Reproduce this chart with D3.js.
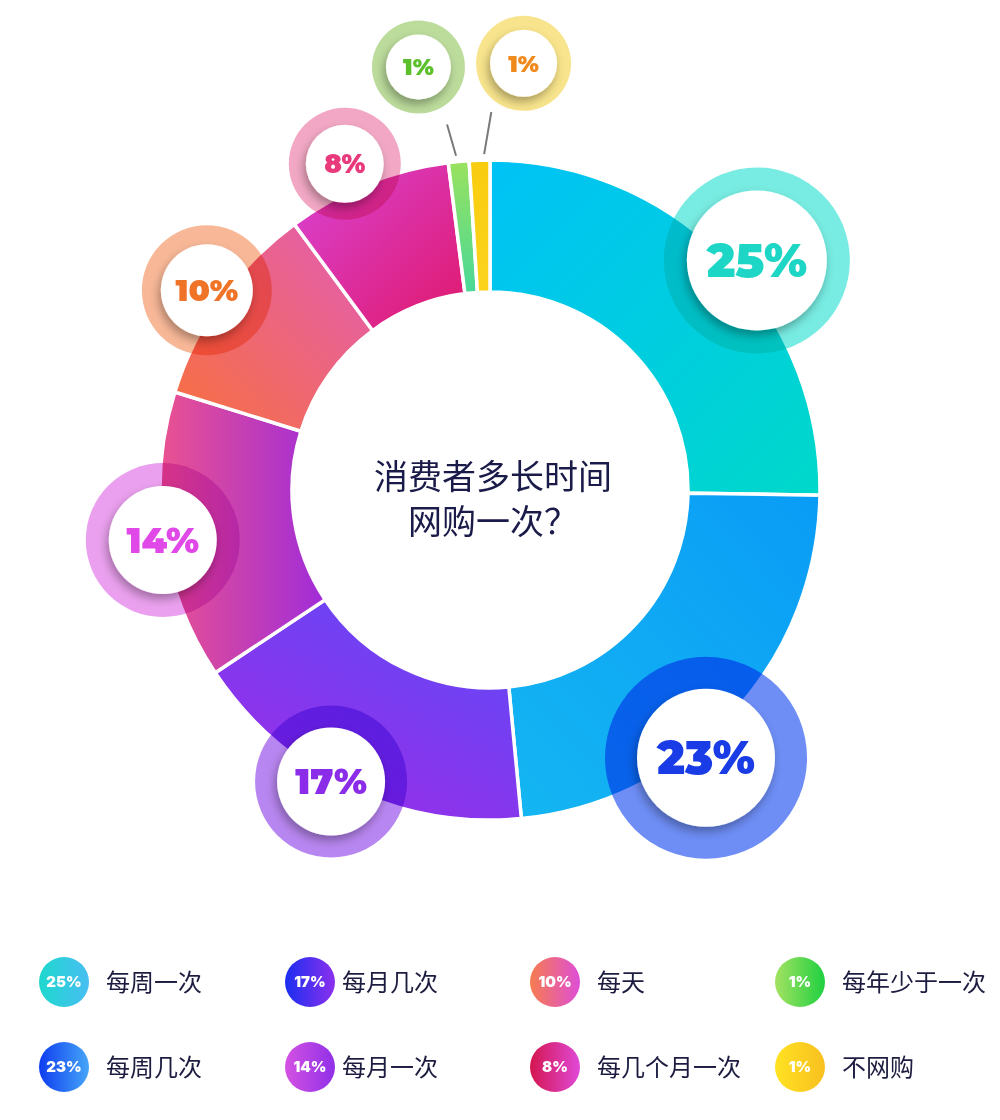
<!DOCTYPE html>
<html><head><meta charset="utf-8">
<script src="https://cdn.jsdelivr.net/npm/d3@7"></script>
<style>body{margin:0;background:#fff}svg{display:block}</style>
</head><body><svg id="c" width="1000" height="1120"></svg>
<script>
// ---- data ----
const categories = ["每周一次","每周几次","每月几次","每月一次","每天","每几个月一次","每年少于一次","不网购"];
const values = [25,23,17,14,10,8,1,1];
const valueLabels = ["25%","23%","17%","14%","10%","8%","1%","1%"];
const titleLines = ["消费者多长时间","网购一次？"];

// ---- styles / layout ----
const sliceGrad = [
  {x1:0,y1:0,x2:1,y2:1, c:["#00c2f6","#00d8ca"]},
  {x1:1,y1:0,x2:0,y2:1, c:["#0a9cf6","#14b6f2"]},
  {x1:1,y1:0,x2:0.3,y2:1, c:["#5a4cf8","#9b2ce8"]},
  {x1:0,y1:0,x2:1,y2:0, c:["#ea5290","#a02cd8"]},
  {x1:0,y1:1,x2:1,y2:0, c:["#f8703c","#e25cb8"]},
  {x1:0,y1:0,x2:1,y2:1, c:["#d844d8","#e0186a"]},
  {x1:0,y1:0,x2:0,y2:1, c:["#9ae25e","#48d898"]},
  {x1:0,y1:0,x2:0,y2:1, c:["#f8cc10","#fcd41c"]}
];
const ringColor = ["#78ece2","#6e8ef6","#b886f0","#eaa0ee","#f8b898","#f2a8c4","#bcdc9c","#f8e48c"];
const textColor = ["#1ed6c6","#1a3ce6","#8a2ce8","#e048e8","#f07428","#e83a7c","#5cc02c","#f08a1c"];
// bubble: polar position (deg clockwise from top, distance), ring radius, white radius
const bubble = [
  {a:49.3, d:352, R:93, r:70},
  {a:141.1,d:344, R:101,r:69},
  {a:208.6,d:332, R:76, r:54},
  {a:261.3,d:331, R:77, r:54},
  {a:305.2,d:346.5,R:65,r:46},
  {a:336,  d:357, R:56, r:39},
  {a:350.4,d:429, R:46.5,r:32.5},
  {a:4.5,  d:428, R:47.5,r:33.5}
];
const leaders = {6:{a1:354.2,r1:336,a2:353.3,r2:368}, 7:{a1:359.0,r1:336,a2:360.2,r2:378}};
const legendGrad = [
  ["#1ed8ce","#48bef2"],["#0e3cf0","#46a6f8"],["#1a2ef0","#8c30ee"],["#d452e2","#9030e8"],
  ["#f67c4e","#de4ed8"],["#d41650","#e04ad8"],["#a4e262","#1ed040"],["#ffe222","#f8c020"]
];
const legendColX = [64,310,555,800];
const legendTextX = [106,342,597,842];
const legendRowY = [982,1067];

const cx = 490, cy = 490, R0 = 198, R1 = 330;

const svg = d3.select("#c");
const defs = svg.append("defs");

sliceGrad.forEach((g,i)=>{
  const lg = defs.append("linearGradient").attr("id","sg"+i)
    .attr("x1",g.x1).attr("y1",g.y1).attr("x2",g.x2).attr("y2",g.y2);
  lg.append("stop").attr("offset",0).attr("stop-color",g.c[0]);
  lg.append("stop").attr("offset",1).attr("stop-color",g.c[1]);
});
legendGrad.forEach((c,i)=>{
  const lg = defs.append("linearGradient").attr("id","lg"+i).attr("x1",0).attr("y1",0).attr("x2",1).attr("y2",0);
  lg.append("stop").attr("offset",0).attr("stop-color",c[0]);
  lg.append("stop").attr("offset",1).attr("stop-color",c[1]);
});
const f = defs.append("filter").attr("id","sh").attr("x","-50%").attr("y","-50%").attr("width","200%").attr("height","200%");
f.append("feDropShadow").attr("dx",-2).attr("dy",5).attr("stdDeviation",5).attr("flood-color","#000").attr("flood-opacity",0.32);

const g = svg.append("g").attr("transform",`translate(${cx},${cy})`);

const pie = d3.pie().sort(null).value(d=>d).startAngle(0).endAngle(2*Math.PI);
const arcs = pie(values);
const arc = d3.arc().innerRadius(R0).outerRadius(R1);

g.selectAll("path.slice").data(arcs).join("path")
  .attr("class","slice")
  .attr("d",arc)
  .attr("fill",(d,i)=>`url(#sg${i})`)
  .attr("stroke","#fff").attr("stroke-width",3.5).attr("stroke-linejoin","miter");

const rad = a => a*Math.PI/180;
const px = (a,d) => d*Math.sin(rad(a));
const py = (a,d) => -d*Math.cos(rad(a));

// leader lines
Object.entries(leaders).forEach(([i,l])=>{
  g.append("line")
    .attr("x1",px(l.a1,l.r1)).attr("y1",py(l.a1,l.r1))
    .attr("x2",px(l.a2,l.r2)).attr("y2",py(l.a2,l.r2))
    .attr("stroke","#7a7a7a").attr("stroke-width",2);
});

// bubbles
const bg = g.selectAll("g.bubble").data(arcs).join("g")
  .attr("class","bubble")
  .attr("transform",(d,i)=>`translate(${px(bubble[i].a,bubble[i].d)},${py(bubble[i].a,bubble[i].d)})`);
bg.append("circle").attr("r",(d,i)=>bubble[i].R).attr("fill",(d,i)=>ringColor[i])
  .style("mix-blend-mode","multiply");
bg.append("circle").attr("r",(d,i)=>bubble[i].r).attr("fill","#fff").attr("filter","url(#sh)");
bg.append("text")
  .attr("text-anchor","middle").attr("dy","0.36em")
  .attr("font-family","Montserrat, Inter, Lato, 'Open Sans', sans-serif")
  .attr("font-weight",900)
  .attr("font-size",(d,i)=>Math.round(bubble[i].r*(i>=6?0.7:0.67)))
  .attr("fill",(d,i)=>textColor[i])
  .text((d,i)=>valueLabels[i]);

// title
g.append("text").attr("text-anchor","middle")
  .attr("font-family","'Noto Sans CJK SC', sans-serif").attr("font-size",34)
  .attr("fill","#1b1b4a")
  .selectAll("tspan").data(titleLines).join("tspan")
  .attr("x",3).attr("y",(d,i)=>-1 + i*45)
  .text(d=>d);

// legend
const lgd = svg.append("g").selectAll("g").data(categories).join("g")
  .attr("transform",(d,i)=>`translate(0,${legendRowY[i%2]})`);
lgd.append("circle").attr("cx",(d,i)=>legendColX[Math.floor(i/2)]).attr("r",25)
  .attr("fill",(d,i)=>`url(#lg${i})`);
lgd.append("text").attr("x",(d,i)=>legendColX[Math.floor(i/2)]).attr("dy","0.36em")
  .attr("text-anchor","middle").attr("fill","#fff")
  .attr("font-family","Inter, Lato, sans-serif").attr("font-weight",900).attr("font-size",15)
  .text((d,i)=>valueLabels[i]);
lgd.append("text").attr("x",(d,i)=>legendTextX[Math.floor(i/2)]).attr("dy","0.36em")
  .attr("fill","#1c1c40")
  .attr("font-family","'Noto Sans CJK SC', sans-serif").attr("font-size",24)
  .text(d=>d);
</script>
</body></html>
